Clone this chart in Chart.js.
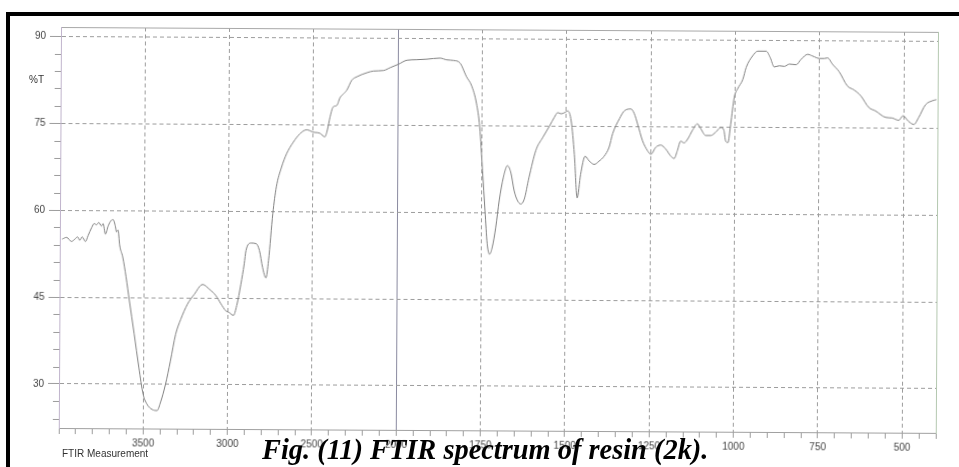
<!DOCTYPE html>
<html>
<head>
<meta charset="utf-8">
<title>FTIR spectrum of resin (2k)</title>
<script src="https://cdn.jsdelivr.net/npm/chart.js@4.4.1/dist/chart.umd.min.js"></script>
<style>
  html, body { margin: 0; padding: 0; background: #fff; }
  body { width: 959px; height: 467px; overflow: hidden; position: relative; font-family: "Liberation Sans", Arial, sans-serif; }
  #ftir { position: absolute; left: 0; top: 0; transform: rotate(0.32deg); transform-origin: 61px 210px; }
  .frame { position: absolute; left: 6px; top: 12px; width: 990px; height: 490px; border-top: 4px solid #000; border-left: 4px solid #000; }
  .unit { position: absolute; left: 29px; top: 74px; font-size: 10px; color: #333; }
  .meas { position: absolute; left: 62px; top: 448px; font-size: 10px; color: #333; }
  .caption { position: absolute; left: 262px; top: 436px; font: italic bold 28.4px/1 "Liberation Serif", "Times New Roman", serif; color: #000; white-space: nowrap; }
</style>
</head>
<body>
<canvas id="ftir" width="959" height="467"></canvas>
<div class="frame"></div>
<div class="unit">%T</div>
<div class="meas">FTIR Measurement</div>
<div class="caption">Fig. (11) FTIR spectrum of resin (2k).</div>
<script>
// wavenumber (cm-1) and %T
const wavenumbers = [
  3986, 3960, 3931, 3911, 3895, 3882, 3868, 3848, 3833, 3812,
  3797, 3783, 3770, 3754, 3744, 3730, 3714, 3698, 3685, 3670,
  3665, 3655, 3645, 3626, 3606, 3586, 3556, 3527, 3501, 3478,
  3448, 3418, 3398, 3369, 3340, 3310, 3280, 3241, 3201, 3152,
  3112, 3073, 3043, 3014, 2994, 2968, 2949, 2925, 2906, 2896,
  2866, 2836, 2816, 2797, 2777, 2762, 2738, 2718, 2688, 2659,
  2620, 2580, 2540, 2501, 2461, 2432, 2418, 2402, 2383, 2363,
  2343, 2324, 2303, 2274, 2244, 2185, 2146, 2087, 2047, 1999,
  1974, 1945, 1915, 1876, 1856, 1836, 1817, 1797, 1782, 1767,
  1757, 1748, 1740, 1733, 1726, 1718, 1708, 1698, 1686, 1674,
  1664, 1654, 1644, 1634, 1624, 1610, 1590, 1570, 1550, 1536,
  1526, 1516, 1506, 1496, 1486, 1476, 1467, 1457, 1444, 1432,
  1417, 1402, 1388, 1373, 1363, 1343, 1328, 1309, 1299, 1289,
  1274, 1259, 1249, 1235, 1220, 1205, 1190, 1180, 1171, 1161,
  1151, 1141, 1126, 1112, 1102, 1087, 1072, 1057, 1042, 1033,
  1028, 1021, 1013, 1003, 993, 978, 968, 949, 934, 909,
  897, 885, 870, 855, 840, 820, 806, 786, 771, 751,
  737, 727, 712, 692, 668, 648, 628, 604, 584, 554,
  535, 515, 502, 487, 470, 456, 436, 416, 404
];
const transmittance = [
  55.0, 55.3, 54.6, 55.0, 55.4, 54.8, 55.4, 54.6, 55.6, 57.0,
  57.7, 57.5, 57.9, 57.3, 57.7, 55.9, 57.3, 58.2, 58.4, 57.1,
  56.3, 56.6, 54.0, 51.9, 48.5, 44.5, 38.7, 32.9, 28.3, 26.6,
  25.7, 25.5, 26.9, 30.0, 34.1, 38.7, 41.3, 43.9, 45.6, 47.3,
  46.5, 45.4, 44.0, 42.8, 42.5, 42.0, 43.7, 47.4, 50.9, 53.2,
  54.5, 54.4, 53.2, 50.3, 48.5, 51.5, 59.6, 64.2, 67.6, 69.9,
  71.9, 73.4, 74.1, 73.7, 73.5, 72.9, 74.0, 76.3, 78.1, 78.3,
  79.7, 80.3, 81.0, 82.7, 83.3, 84.0, 84.3, 84.4, 84.9, 85.5,
  86.2, 86.3, 86.4, 86.6, 86.3, 86.2, 85.8, 83.4, 81.9, 78.8,
  74.7, 67.2, 60.3, 54.6, 52.8, 54.0, 57.4, 62.1, 66.1, 68.1,
  66.9, 63.8, 62.1, 61.5, 62.3, 66.1, 70.8, 73.0, 75.0, 76.5,
  77.3, 77.1, 77.3, 77.6, 75.9, 70.1, 62.6, 66.7, 69.8, 69.0,
  68.4, 69.0, 69.8, 71.4, 73.7, 76.3, 77.7, 78.0, 77.2, 75.4,
  72.5, 70.8, 70.2, 71.4, 71.8, 71.1, 69.9, 69.5, 70.8, 72.5,
  72.2, 72.8, 74.4, 75.5, 74.7, 73.5, 73.5, 74.1, 74.9, 74.4,
  72.6, 72.3, 75.5, 80.1, 81.6, 83.2, 85.3, 87.3, 88.1, 88.1,
  87.0, 85.4, 85.6, 85.5, 85.9, 85.8, 86.7, 87.6, 87.3, 86.9,
  86.9, 87.0, 85.9, 84.6, 82.2, 81.5, 80.5, 78.5, 77.9, 76.8,
  76.7, 76.3, 77.1, 76.2, 75.6, 76.8, 79.0, 79.7, 79.9
];
const xTickLabels = [3500, 3000, 2500, 2000, 1750, 1500, 1250, 1000, 750, 500];
const yTickLabels = [30, 45, 60, 75, 90];

// instrument axis: 4000-2000 is drawn at half the scale of 2000-400
function toAxis(wn) { return wn >= 2000 ? (4000 - wn) / 2 : 3000 - wn; }
function fromAxis(u) { return u <= 1000 ? 4000 - 2 * u : 3000 - u; }

const points = wavenumbers.map((w, i) => ({ x: toAxis(w), y: transmittance[i] }));

const gridGray = '#9c9c9c';
const isMajorX = u => xTickLabels.includes(fromAxis(u));

const minorTicks = {
  id: 'minorTicks',
  afterDraw(chart) {
    const y = chart.scales.y;
    const ctx = chart.ctx;
    ctx.save();
    ctx.strokeStyle = gridGray;
    ctx.lineWidth = 1;
    y.ticks.forEach(t => {
      if (yTickLabels.includes(t.value)) return;
      const py = Math.round(y.getPixelForValue(t.value)) + 0.5;
      ctx.beginPath();
      ctx.moveTo(y.right - 6, py);
      ctx.lineTo(y.right, py);
      ctx.stroke();
    });
    ctx.restore();
  }
};

Chart.defaults.font.family = '"Liberation Sans", Arial, sans-serif';

new Chart(document.getElementById('ftir'), {
  type: 'line',
  data: {
    datasets: [{
      data: points,
      borderColor: '#808080',
      borderWidth: 1,
      pointRadius: 0,
      cubicInterpolationMode: 'monotone',
      fill: false
    }]
  },
  options: {
    responsive: false,
    animation: false,
    devicePixelRatio: 1,
    layout: { padding: 0 },
    plugins: { legend: { display: false }, tooltip: { enabled: false } },
    scales: {
      x: {
        type: 'linear',
        position: 'bottom',
        min: 0,
        max: 2600,
        afterBuildTicks: scale => {
          const t = [];
          for (let u = 0; u <= 2600; u += 50) t.push({ value: u });
          scale.ticks = t;
        },
        afterFit: scale => { scale.height = 39; },
        ticks: {
          autoSkip: false,
          maxRotation: 0,
          padding: 3,
          color: '#444',
          font: { size: 10 },
          callback: value => isMajorX(value) ? String(fromAxis(value)) : ''
        },
        grid: {
          color: ctx => {
            if (!ctx.tick) return gridGray;
            if (ctx.tick.value === 1000) return '#8a8aa0';
            return isMajorX(ctx.tick.value) ? gridGray : 'rgba(0,0,0,0)';
          },
          tickColor: gridGray,
          tickLength: 6,
          lineWidth: 1
        },
        border: {
          color: '#a0a0a0',
          dash: ctx => (ctx.tick && ctx.tick.value !== 1000) ? [4, 3] : []
        }
      },
      x2: {
        type: 'linear',
        position: 'top',
        afterFit: scale => { scale.height = 27; },
        ticks: { display: false },
        grid: { drawOnChartArea: false, drawTicks: false },
        border: { color: '#a8a8a8' }
      },
      y: {
        type: 'linear',
        position: 'left',
        min: 22.4,
        max: 91.6,
        afterBuildTicks: scale => {
          const t = [];
          for (let v = 24; v <= 90; v += 3) t.push({ value: v });
          scale.ticks = t;
        },
        afterFit: scale => { scale.width = 60; },
        ticks: {
          autoSkip: false,
          padding: 4,
          color: '#444',
          font: { size: 10 },
          callback: value => yTickLabels.includes(value) ? String(value) : ''
        },
        grid: {
          color: ctx => (ctx.tick && yTickLabels.includes(ctx.tick.value)) ? gridGray : 'rgba(0,0,0,0)',
          tickColor: ctx => (ctx.tick && yTickLabels.includes(ctx.tick.value)) ? gridGray : 'rgba(0,0,0,0)',
          tickLength: 11,
          lineWidth: 1
        },
        border: {
          color: '#c0b4cc',
          dash: ctx => ctx.tick ? [4, 3] : []
        }
      },
      y2: {
        type: 'linear',
        position: 'right',
        afterFit: scale => { scale.width = 22; },
        ticks: { display: false },
        grid: { drawOnChartArea: false, drawTicks: false },
        border: { color: '#b4c8b0' }
      }
    }
  },
  plugins: [minorTicks]
});
</script>
</body>
</html>
